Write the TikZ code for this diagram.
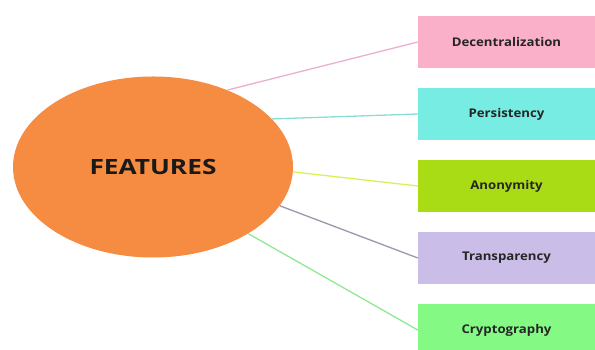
\documentclass[tikz,border=0pt]{standalone}
\usepackage{fontspec}
\setmainfont{Open Sans}
\newfontfamily\featfont[FakeStretch=1.25]{Open Sans}
\newfontfamily\boxfont[FakeStretch=1.1]{Open Sans}
\usetikzlibrary{shapes.geometric}
\definecolor{featorange}{RGB}{246,140,66}
\definecolor{decpink}{RGB}{250,176,200}
\definecolor{percyan}{RGB}{118,236,226}
\definecolor{anolime}{RGB}{170,220,22}
\definecolor{tralav}{RGB}{202,190,232}
\definecolor{crygreen}{RGB}{132,250,132}
\tikzset{
	featbox/.style={rectangle, minimum width=177pt, minimum height=52pt, inner sep=0pt, font=\boxfont\fontsize{12}{14}\selectfont\bfseries, text=black!85},
	featline/.style={line width=1.3pt}
}
\begin{document}
\begin{tikzpicture}[x=1pt, y=1pt]
	\useasboundingbox (0,0) rectangle (595,350);
	%centre
		\node[ellipse, fill=featorange, minimum width=280pt, minimum height=181pt, font=\featfont\fontsize{21}{24}\selectfont\bfseries, text=black!90] (feat) at (153,183){FEATURES};
	%boxes
		\node[featbox, fill=decpink] (dec) at (506.5,308){Decentralization};
		\node[featbox, fill=percyan] (per) at (506.5,236){Persistency};
		\node[featbox, fill=anolime] (ano) at (506.5,164){Anonymity};
		\node[featbox, fill=tralav] (tra) at (506.5,92){Transparency};
		\node[featbox, fill=crygreen] (cry) at (506.5,20){Cryptography};
	%links
		\draw[featline, decpink!80!violet!70] (feat.46) -- (dec.west);
		\draw[featline, percyan!90!black!80] (feat.22) -- (per.west);
		\draw[featline, anolime!60!yellow!70] (feat.-2) -- (ano.west);
		\draw[featline, tralav!65!black!80] (feat.-17) -- (tra.west);
		\draw[featline, crygreen!90!black!80] (feat.-35) -- (cry.west);
\end{tikzpicture}
\end{document}
